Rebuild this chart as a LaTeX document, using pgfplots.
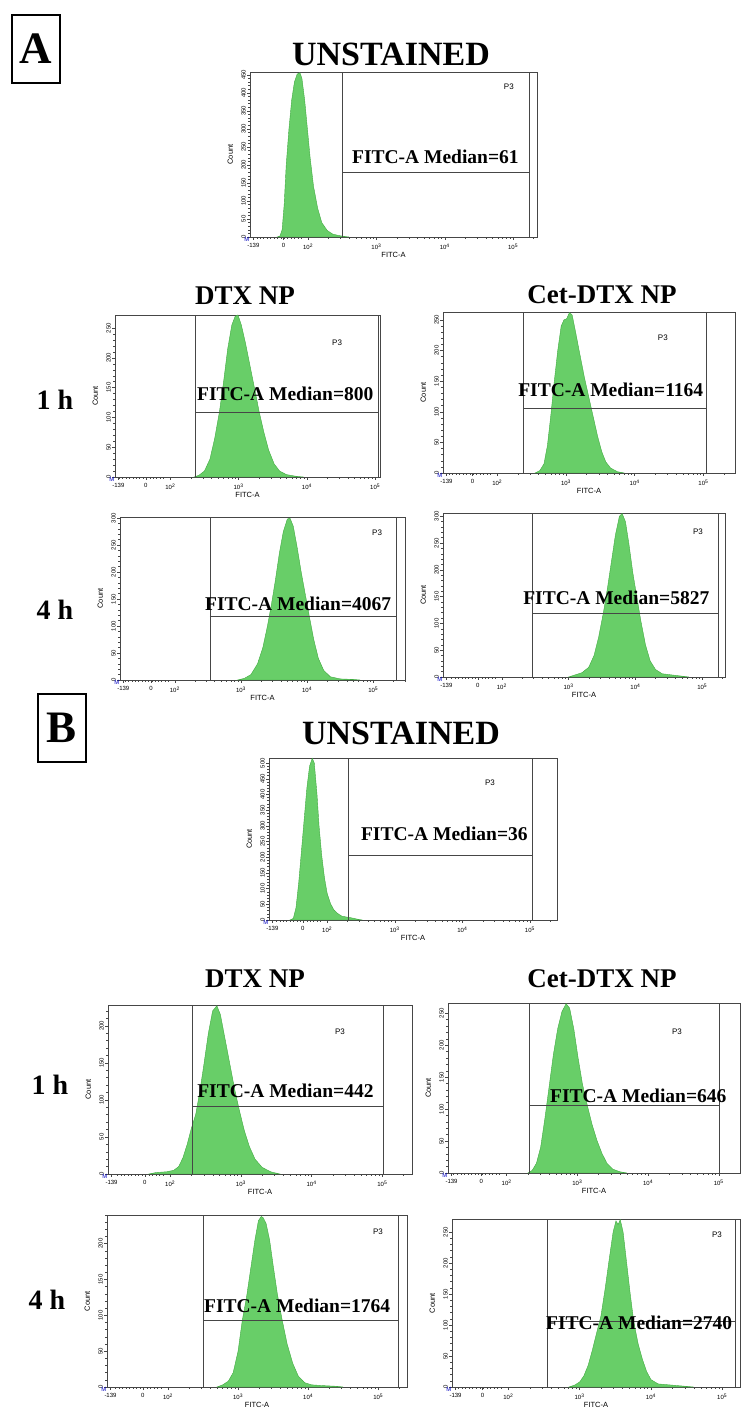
\documentclass[border=0pt]{standalone}
\usepackage{fontspec}
\setmainfont{Liberation Serif}
\newfontfamily\arial{Liberation Sans}
\usepackage{pgfplots}
\pgfplotsset{compat=1.18}

\definecolor{fitc}{RGB}{104,206,104}
\definecolor{fitcdark}{RGB}{64,170,64}
\definecolor{frame}{RGB}{70,70,70}

\newcommand\fs[1]{\fontsize{#1}{#1}\selectfont}
\newcommand\medtxt[3]{\node[anchor=base west,font=\bfseries\fs{19.5},inner sep=0pt] at (rel axis cs:#1,#2) {FITC-A Median=#3};}
\newcommand\pthree[2]{\node[font=\arial\fs{8}] at (rel axis cs:#1,#2) {P3};}
\newcommand\gate[4]{%
  \addplot[frame,line width=0.5pt] coordinates {(#1,0) (#1,#4)};
  \addplot[frame,line width=0.5pt] coordinates {(#2,0) (#2,#4)};
  \addplot[frame,line width=0.5pt] coordinates {(#1,#3) (#2,#3)};}
\newcommand\mmark{\node[font=\arial\fs{6},text=blue!75!black,anchor=north east,inner sep=0.5pt] at (rel axis cs:0,0) {M};}

\pgfplotsset{
  flow/.style={
    anchor=south west, scale only axis, clip=false,
    ymin=0,
    axis line style={line width=0.6pt,draw=frame},
    tick align=outside, xtick pos=bottom, ytick pos=left,
    major tick length=3pt, minor tick length=1.6pt,
    every tick/.style={frame,line width=0.4pt},
    xtick={#1,1.64,2,3,4,5},
    xticklabels={-139,0,10\textsuperscript{2},10\textsuperscript{3},10\textsuperscript{4},10\textsuperscript{5}},
    minor xtick={1.25,1.30,...,1.95,2.301,2.477,2.602,2.699,2.778,2.845,2.903,2.954,3.301,3.477,3.602,3.699,3.778,3.845,3.903,3.954,4.301,4.477,4.602,4.699,4.778,4.845,4.903,4.954,5.301,5.477},
    ytick distance=50, minor y tick num=4,
    /pgf/number format/assume math mode=true,
    tick label style={font=\arial\fs{6}},
    yticklabel style={rotate=90,anchor=south,inner sep=1pt},
    xticklabel style={inner sep=1.5pt,yshift=-2pt},
    xlabel={FITC-A}, ylabel={Count},
    label style={font=\arial\fs{7.5}},
    xlabel style={yshift=3pt}, ylabel style={yshift=4pt},
  },
  hist/.style={fill=fitc,draw=fitcdark,line width=0.4pt},
}

\begin{document}
\begin{tikzpicture}

% ---------------- labels ----------------
\draw[line width=2.5pt] (12pt,1400pt) rectangle (60pt,1332pt);
\node[font=\bfseries\fs{45}] at (36pt,1366pt) {A};
\draw[line width=2.5pt] (38pt,721pt) rectangle (86pt,653pt);
\node[font=\bfseries\fs{45}] at (62pt,687pt) {B};

\node[anchor=base,font=\bfseries\fs{34}] at (391pt,1349pt) {UNSTAINED};
\node[anchor=base,font=\bfseries\fs{27}] at (245pt,1110pt) {DTX NP};
\node[anchor=base,font=\bfseries\fs{27}] at (602pt,1111pt) {Cet-DTX NP};
\node[anchor=west,font=\bfseries\fs{28}] at (33pt,1015pt) {1 h};
\node[anchor=west,font=\bfseries\fs{28}] at (33pt,805pt) {4 h};

\node[anchor=base,font=\bfseries\fs{34}] at (401pt,670pt) {UNSTAINED};
\node[anchor=base,font=\bfseries\fs{27}] at (255pt,427pt) {DTX NP};
\node[anchor=base,font=\bfseries\fs{27}] at (602pt,427pt) {Cet-DTX NP};
\node[anchor=west,font=\bfseries\fs{28}] at (28pt,330pt) {1 h};
\node[anchor=west,font=\bfseries\fs{28}] at (25pt,115pt) {4 h};

% ---------------- A: unstained ----------------
\begin{axis}[flow=1.20, at={(250pt,1178pt)}, width=287pt, height=165pt,
  xmin=1.15, xmax=5.35, ymax=458]
\addplot[hist] coordinates {(1.55,0) (1.59,3) (1.62,20) (1.65,90) (1.68,200) (1.72,300) (1.76,380) (1.80,430) (1.84,452) (1.88,456) (1.91,440) (1.95,380) (1.99,300) (2.03,220) (2.08,140) (2.14,80) (2.20,40) (2.28,18) (2.36,8) (2.45,4) (2.55,1) (2.60,0)} \closedcycle;
\gate{2.50}{5.24}{180}{458}
\medtxt{0.355}{0.448}{61}
\pthree{0.902}{0.909}
\mmark
\end{axis}

% ---------------- A: DTX NP 1 h ----------------
\begin{axis}[flow=1.24, at={(115pt,938pt)}, width=265pt, height=162pt,
  xmin=1.19, xmax=5.07, ymax=272]
\addplot[hist] coordinates {(2.35,0) (2.42,3) (2.50,10) (2.58,30) (2.65,65) (2.72,110) (2.78,160) (2.84,215) (2.90,255) (2.95,270) (2.99,272) (3.04,255) (3.10,225) (3.17,185) (3.24,145) (3.30,110) (3.37,75) (3.44,45) (3.52,22) (3.60,10) (3.70,4) (3.85,1) (3.95,0)} \closedcycle;
\gate{2.37}{5.04}{109}{272}
\medtxt{0.309}{0.475}{800}
\pthree{0.838}{0.827}
\mmark
\end{axis}

% ---------------- A: Cet-DTX NP 1 h ----------------
\begin{axis}[flow=1.26, at={(443pt,942pt)}, width=292pt, height=161pt,
  xmin=1.21, xmax=5.46, ymax=263]
\addplot[hist] coordinates {(2.55,0) (2.62,4) (2.68,15) (2.73,45) (2.78,95) (2.83,150) (2.88,200) (2.93,240) (2.97,250) (3.01,252) (3.05,262) (3.09,258) (3.14,230) (3.20,195) (3.27,155) (3.34,120) (3.40,90) (3.46,60) (3.52,35) (3.58,18) (3.65,8) (3.75,2) (3.85,0)} \closedcycle;
\gate{2.38}{5.04}{106}{263}
\medtxt{0.257}{0.472}{1164}
\pthree{0.753}{0.839}
\mmark
\end{axis}

% ---------------- A: DTX NP 4 h ----------------
\begin{axis}[flow=1.22, at={(120pt,735pt)}, width=285pt, height=163pt,
  xmin=1.17, xmax=5.48, ymax=302]
\addplot[hist] coordinates {(2.95,0) (3.05,3) (3.15,10) (3.25,30) (3.33,60) (3.40,100) (3.46,140) (3.52,185) (3.58,235) (3.64,275) (3.70,298) (3.74,300) (3.79,285) (3.85,245) (3.91,200) (3.97,160) (4.03,120) (4.10,75) (4.17,40) (4.25,18) (4.35,6) (4.50,2) (4.70,1) (4.80,0)} \closedcycle;
\gate{2.53}{5.35}{118}{302}
\medtxt{0.298}{0.429}{4067}
\pthree{0.902}{0.902}
\mmark
\end{axis}

% ---------------- A: Cet-DTX NP 4 h ----------------
\begin{axis}[flow=1.17, at={(443pt,738pt)}, width=282pt, height=164pt,
  xmin=1.12, xmax=5.34, ymax=306]
\addplot[hist] coordinates {(3.00,0) (3.10,4) (3.20,8) (3.30,18) (3.38,40) (3.45,75) (3.52,120) (3.58,165) (3.64,215) (3.70,265) (3.76,300) (3.80,305) (3.85,290) (3.90,250) (3.96,195) (4.02,150) (4.08,105) (4.15,60) (4.22,30) (4.30,14) (4.40,6) (4.60,3) (4.80,0)} \closedcycle;
\gate{2.46}{5.24}{118}{306}
\medtxt{0.284}{0.445}{5827}
\pthree{0.904}{0.884}
\mmark
\end{axis}

% ---------------- B: unstained ----------------
\begin{axis}[flow=1.19, at={(269pt,495pt)}, width=288pt, height=162pt,
  xmin=1.14, xmax=5.40, ymax=516]
\addplot[hist] coordinates {(1.45,0) (1.50,5) (1.54,40) (1.58,120) (1.62,220) (1.66,320) (1.70,420) (1.74,490) (1.78,515) (1.81,500) (1.85,400) (1.88,300) (1.92,205) (1.96,135) (2.00,85) (2.05,52) (2.10,32) (2.16,20) (2.22,12) (2.30,9) (2.38,6) (2.46,2) (2.52,0)} \closedcycle;
\gate{2.31}{5.03}{207}{516}
\medtxt{0.319}{0.488}{36}
\pthree{0.767}{0.846}
\mmark
\end{axis}

% ---------------- B: DTX NP 1 h ----------------
\begin{axis}[flow=1.17, at={(108pt,241pt)}, width=304pt, height=169pt,
  xmin=1.12, xmax=5.42, ymax=228]
\addplot[hist] coordinates {(1.70,0) (1.80,2) (1.95,3) (2.05,5) (2.12,10) (2.18,22) (2.24,40) (2.30,62) (2.36,80) (2.42,112) (2.48,150) (2.54,190) (2.60,220) (2.66,227) (2.71,215) (2.77,185) (2.84,150) (2.91,115) (2.98,85) (3.05,58) (3.12,37) (3.20,20) (3.30,9) (3.42,3) (3.55,0)} \closedcycle;
\gate{2.31}{5.01}{92}{228}
\medtxt{0.293}{0.450}{442}
\pthree{0.763}{0.840}
\mmark
\end{axis}

% ---------------- B: Cet-DTX NP 1 h ----------------
\begin{axis}[flow=1.22, at={(448pt,242pt)}, width=292pt, height=170pt,
  xmin=1.17, xmax=5.30, ymax=266]
\addplot[hist] coordinates {(2.30,0) (2.36,4) (2.42,15) (2.48,40) (2.54,85) (2.60,135) (2.66,185) (2.72,225) (2.78,252) (2.84,265) (2.89,258) (2.95,225) (3.01,180) (3.07,140) (3.14,106) (3.21,75) (3.28,50) (3.35,30) (3.42,15) (3.50,6) (3.60,2) (3.70,0)} \closedcycle;
\gate{2.32}{5.00}{106}{266}
\medtxt{0.349}{0.412}{646}
\pthree{0.784}{0.829}
\mmark
\end{axis}

% ---------------- B: DTX NP 4 h ----------------
\begin{axis}[flow=1.18, at={(107pt,28pt)}, width=300pt, height=172pt,
  xmin=1.13, xmax=5.41, ymax=240]
\addplot[hist] coordinates {(2.70,0) (2.78,3) (2.86,8) (2.93,20) (3.00,50) (3.06,93) (3.12,125) (3.18,165) (3.24,205) (3.29,232) (3.33,238) (3.36,236) (3.40,228) (3.45,205) (3.50,170) (3.56,130) (3.63,93) (3.70,60) (3.78,33) (3.86,15) (3.95,6) (4.05,3) (4.20,2) (4.40,1) (4.50,0)} \closedcycle;
\gate{2.51}{5.29}{93}{240}
\medtxt{0.323}{0.436}{1764}
\pthree{0.903}{0.901}
\mmark
\end{axis}

% ---------------- B: Cet-DTX NP 4 h ----------------
\begin{axis}[flow=1.26, at={(452pt,28pt)}, width=288pt, height=168pt,
  xmin=1.21, xmax=5.25, ymax=271]
\addplot[hist] coordinates {(2.85,0) (2.93,3) (3.00,8) (3.06,18) (3.12,35) (3.18,60) (3.24,88) (3.30,115) (3.36,160) (3.42,210) (3.47,250) (3.51,268) (3.54,262) (3.57,270) (3.61,250) (3.66,200) (3.71,150) (3.76,105) (3.82,70) (3.88,45) (3.94,25) (4.00,12) (4.10,5) (4.30,3) (4.50,1) (4.60,0)} \closedcycle;
\gate{2.55}{5.19}{106}{271}
\medtxt{0.326}{0.345}{2740}
\pthree{0.920}{0.905}
\mmark
\end{axis}

\pgfresetboundingbox
\path (0pt,0pt) rectangle (741pt,1415pt);
\end{tikzpicture}
\end{document}
